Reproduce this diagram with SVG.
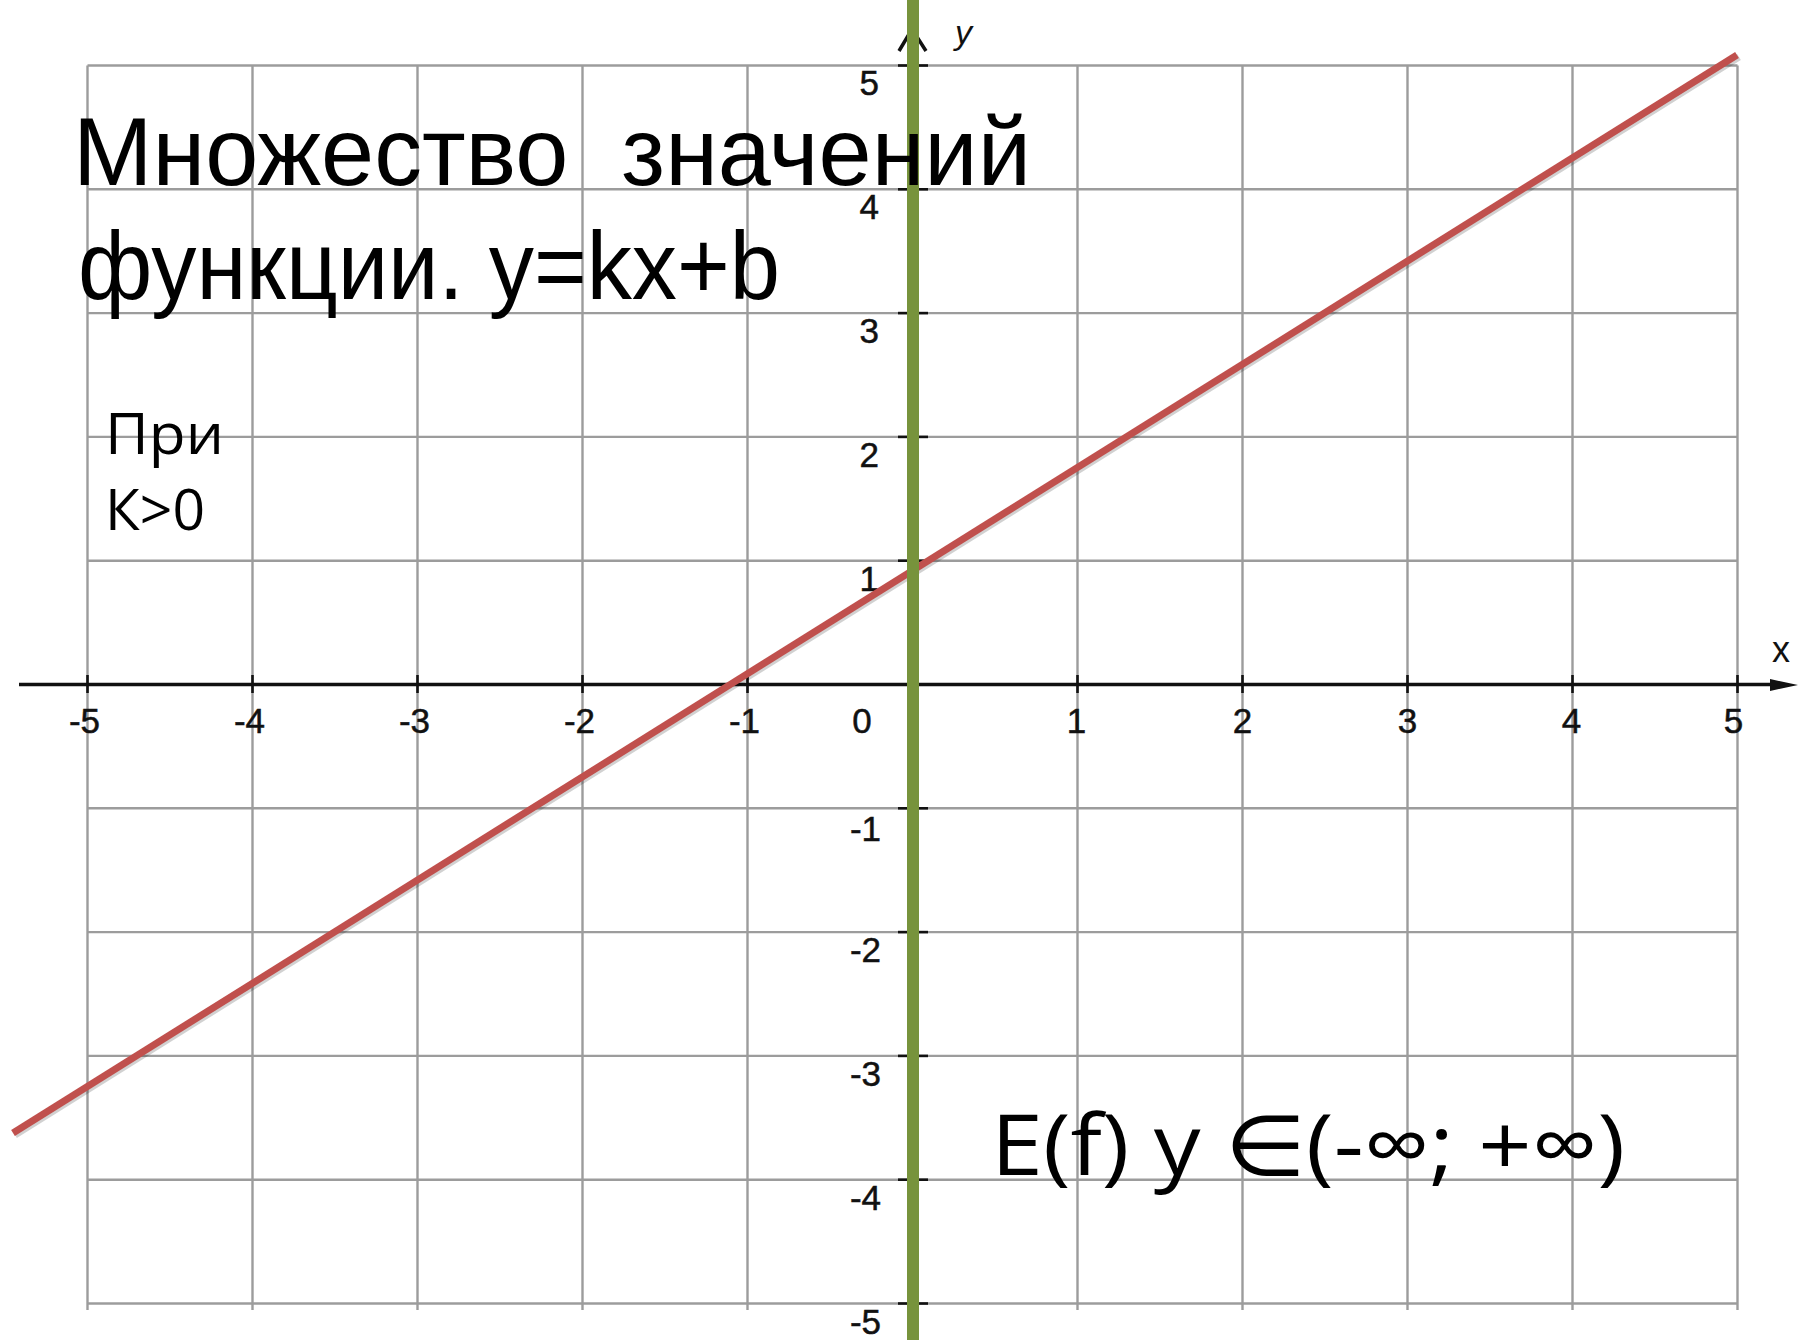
<svg xmlns="http://www.w3.org/2000/svg" width="1806" height="1340" viewBox="0 0 1806 1340">
<style>
.grid line{stroke:#9c9c9c;stroke-width:2.4}
.axis{stroke:#111;stroke-width:3.5;fill:none}
.tick{stroke:#111;stroke-width:2.6}
.lbl{font-family:"Liberation Sans",Arial,sans-serif;font-size:35px;fill:#111;stroke:#111;stroke-width:0.5}
.lx{text-anchor:middle}
.ly{text-anchor:end}
.title{font-family:"Liberation Sans Narrow","Liberation Sans",Arial,sans-serif;font-size:96px;fill:#000}
.cal{font-family:"Open Sans","Noto Sans","DejaVu Sans",sans-serif;fill:#000}
</style>
<rect width="1806" height="1340" fill="#fff"/>
<g id="grid" class="grid">
<line x1="87.5" y1="65.5" x2="87.5" y2="1310"/>
<line x1="252.5" y1="65.5" x2="252.5" y2="1310"/>
<line x1="417.5" y1="65.5" x2="417.5" y2="1310"/>
<line x1="582.5" y1="65.5" x2="582.5" y2="1310"/>
<line x1="747.5" y1="65.5" x2="747.5" y2="1310"/>
<line x1="1077.5" y1="65.5" x2="1077.5" y2="1310"/>
<line x1="1242.5" y1="65.5" x2="1242.5" y2="1310"/>
<line x1="1407.5" y1="65.5" x2="1407.5" y2="1310"/>
<line x1="1572.5" y1="65.5" x2="1572.5" y2="1310"/>
<line x1="1737.5" y1="65.5" x2="1737.5" y2="1310"/>
<line x1="87.5" y1="65.5" x2="1737.5" y2="65.5"/>
<line x1="87.5" y1="189.3" x2="1737.5" y2="189.3"/>
<line x1="87.5" y1="313.1" x2="1737.5" y2="313.1"/>
<line x1="87.5" y1="436.9" x2="1737.5" y2="436.9"/>
<line x1="87.5" y1="560.7" x2="1737.5" y2="560.7"/>
<line x1="87.5" y1="808.3" x2="1737.5" y2="808.3"/>
<line x1="87.5" y1="932.1" x2="1737.5" y2="932.1"/>
<line x1="87.5" y1="1055.9" x2="1737.5" y2="1055.9"/>
<line x1="87.5" y1="1179.7" x2="1737.5" y2="1179.7"/>
<line x1="87.5" y1="1303.5" x2="1737.5" y2="1303.5"/>
</g>
<g id="x-axis">
<line class="axis" x1="19" y1="684.5" x2="1775" y2="684.5"/>
<polygon points="1770,679 1798,685 1770,691" fill="#111"/>
<g class="tick">
<line x1="87.5" y1="675" x2="87.5" y2="693"/>
<line x1="252.5" y1="675" x2="252.5" y2="693"/>
<line x1="417.5" y1="675" x2="417.5" y2="693"/>
<line x1="582.5" y1="675" x2="582.5" y2="693"/>
<line x1="747.5" y1="675" x2="747.5" y2="693"/>
<line x1="1077.5" y1="675" x2="1077.5" y2="693"/>
<line x1="1242.5" y1="675" x2="1242.5" y2="693"/>
<line x1="1407.5" y1="675" x2="1407.5" y2="693"/>
<line x1="1572.5" y1="675" x2="1572.5" y2="693"/>
<line x1="1737.5" y1="675" x2="1737.5" y2="693"/>
</g>
<g class="lbl lx">
<text x="84.5" y="733">-5</text>
<text x="249.5" y="733">-4</text>
<text x="414.5" y="733">-3</text>
<text x="579.5" y="733">-2</text>
<text x="744.5" y="733">-1</text>
<text x="862" y="733">0</text>
<text x="1076.5" y="733">1</text>
<text x="1242.5" y="733">2</text>
<text x="1407.5" y="733">3</text>
<text x="1571.5" y="733">4</text>
<text x="1733.5" y="733">5</text>
</g>
<text x="1772" y="662" style="font-family:'Liberation Sans',Arial,sans-serif;font-size:36px;fill:#111">x</text>
</g>
<g id="y-axis">
<path class="axis" d="M899,51 L912,29 L926,51" stroke-width="3"/>
<g class="tick" stroke-width="3">
<line x1="898" y1="65.5" x2="928" y2="65.5"/>
<line x1="898" y1="189.3" x2="928" y2="189.3"/>
<line x1="898" y1="313.1" x2="928" y2="313.1"/>
<line x1="898" y1="436.9" x2="928" y2="436.9"/>
<line x1="898" y1="560.7" x2="928" y2="560.7"/>
<line x1="898" y1="808.3" x2="928" y2="808.3"/>
<line x1="898" y1="932.1" x2="928" y2="932.1"/>
<line x1="898" y1="1055.9" x2="928" y2="1055.9"/>
<line x1="898" y1="1179.7" x2="928" y2="1179.7"/>
<line x1="898" y1="1303.5" x2="928" y2="1303.5"/>
</g>
<g class="lbl ly">
<text x="879" y="95">5</text>
<text x="879" y="219">4</text>
<text x="879" y="343">3</text>
<text x="879" y="467">2</text>
<text x="879" y="591">1</text>
<text x="881" y="841">-1</text>
<text x="881" y="962">-2</text>
<text x="881" y="1086">-3</text>
<text x="881" y="1210">-4</text>
<text x="881" y="1334">-5</text>
</g>
<text x="955" y="44" style="font-family:'Liberation Sans',Arial,sans-serif;font-size:34px;font-style:italic;fill:#111">y</text>
</g>
<g id="connectors">
<line x1="15" y1="1135" x2="1739" y2="57" stroke="#000" stroke-opacity="0.18" stroke-width="7"/>
<line id="red-line" x1="13" y1="1133" x2="1737" y2="55" stroke="#C0504D" stroke-width="7"/>
<line id="green-line" x1="913" y1="0" x2="913" y2="1340" stroke="#77933C" stroke-width="12"/>
</g>
<g id="title">
<text class="title" x="73" y="185" textLength="958" lengthAdjust="spacingAndGlyphs" xml:space="preserve">Множество  значений</text>
<text class="title" x="78" y="299" textLength="702" lengthAdjust="spacingAndGlyphs">функции. y=kx+b</text>
</g>
<g id="condition">
<text class="cal" x="105" y="454" font-size="56" textLength="119" lengthAdjust="spacingAndGlyphs">При</text>
<text class="cal" x="105" y="530" font-size="56" textLength="100" lengthAdjust="spacingAndGlyphs">К&gt;0</text>
</g>
<g id="range">
<text class="cal" x="991" y="1175" font-size="84" textLength="634" lengthAdjust="spacingAndGlyphs" xml:space="preserve">E(f) y ∈(-∞; +∞)</text>
</g>
</svg>
